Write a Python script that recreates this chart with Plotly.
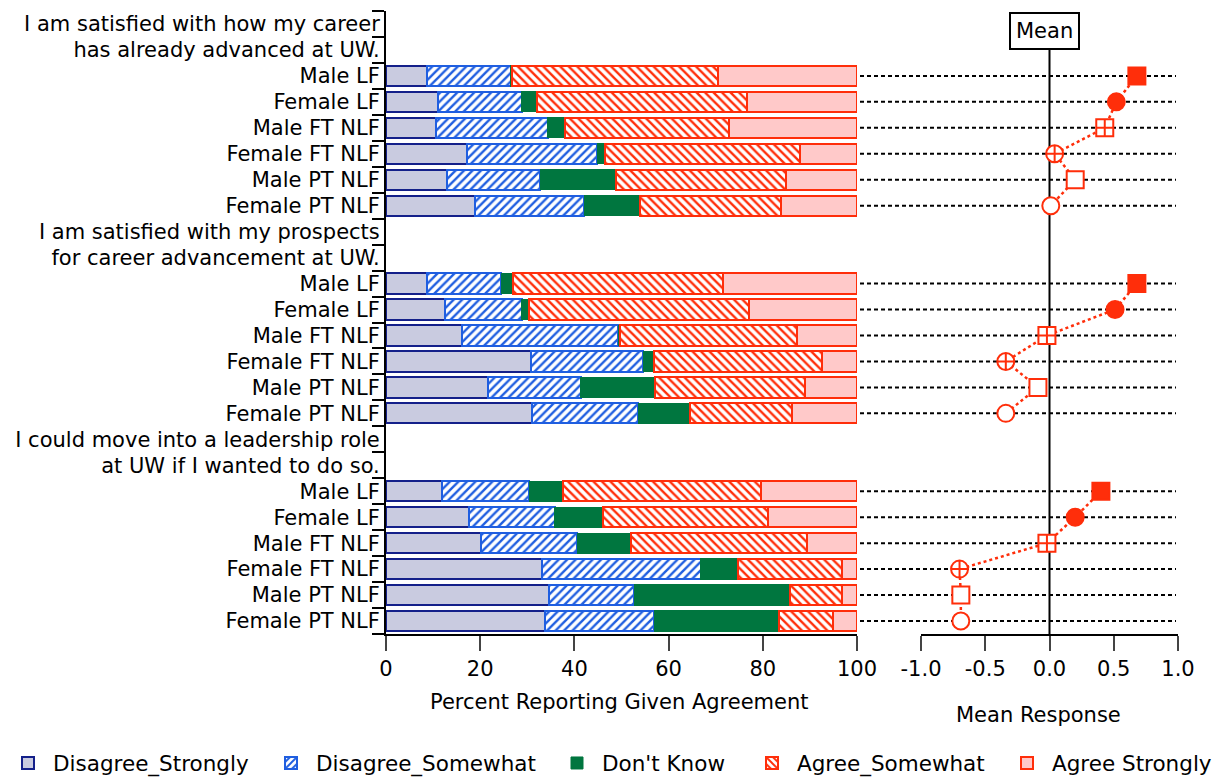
import plotly.graph_objects as go

# question headers (two lines each) and respondent groups
questions = [
    ("I am satisfied with how my career", "has already advanced at UW."),
    ("I am satisfied with my prospects", "for career advancement at UW."),
    ("I could move into a leadership role", "at UW if I wanted to do so."),
]
groups = ["Male LF", "Female LF", "Male FT NLF", "Female FT NLF", "Male PT NLF", "Female PT NLF"]

categories = ["Disagree_Strongly", "Disagree_Somewhat", "Don't Know", "Agree_Somewhat", "Agree Strongly"]

# percent of respondents, 18 rows (3 questions x 6 groups)
disagree_strongly = [8.6, 11.0, 10.6, 17.3, 13.0, 18.9,
                     8.6, 12.5, 16.1, 30.7, 21.6, 31.0,
                     11.8, 17.7, 20.1, 33.1, 34.6, 33.8]
disagree_somewhat = [17.9, 17.8, 23.7, 27.6, 19.8, 23.2,
                     15.9, 16.3, 33.2, 23.9, 19.8, 22.6,
                     18.6, 18.1, 20.5, 33.7, 18.1, 23.2]
dont_know = [0.3, 3.2, 3.8, 1.6, 16.1, 11.8,
             2.5, 1.6, 0.3, 2.2, 15.8, 10.9,
             7.2, 10.3, 11.4, 8.0, 33.1, 26.5]
agree_somewhat = [43.6, 44.7, 34.7, 41.4, 36.1, 29.9,
                  44.6, 46.7, 37.7, 35.7, 31.8, 21.7,
                  42.0, 34.9, 37.3, 22.0, 11.0, 11.3]
agree_strongly = [29.6, 23.3, 27.2, 12.1, 15.0, 16.2,
                  28.4, 22.9, 12.7, 7.5, 11.0, 13.8,
                  20.4, 19.0, 10.7, 3.2, 3.2, 5.2]

mean_response = [0.68, 0.52, 0.43, 0.04, 0.20, 0.01,
                 0.68, 0.51, -0.02, -0.34, -0.09, -0.34,
                 0.40, 0.20, -0.02, -0.70, -0.69, -0.69]

RED = "#ff2e0a"
BLUE = "#1f5ee0"
NAVY = "#14208a"
GREEN = "#00763f"
FONT = "DejaVu Sans"
W = 1224
OFF = 8  # page body margin
PLOT_TOP, PLOT_H = 3, 623

# y layout: every question takes 8 slots (2 header lines + 6 groups)
tickvals, ticktext, row_y = [], [], []
for g, (l1, l2) in enumerate(questions):
    base = g * 8
    tickvals += [base, base + 1]
    ticktext += [l1, l2]
    for i, name in enumerate(groups):
        tickvals.append(base + 2 + i)
        ticktext.append(name)
        row_y.append(base + 2 + i)


def px(x):
    return (x - OFF) / W


def py(y):
    return (PLOT_TOP + PLOT_H - (y - OFF)) / PLOT_H


series = [disagree_strongly, disagree_somewhat, dont_know, agree_somewhat, agree_strongly]
styles = [
    dict(color="#c9cbe0", line=dict(color=NAVY, width=2)),
    dict(color=BLUE, line=dict(color=BLUE, width=2),
         pattern=dict(shape="/", fgcolor=BLUE, bgcolor="white", size=6, solidity=0.4, fillmode="replace")),
    dict(color=GREEN, line=dict(color=GREEN, width=1)),
    dict(color=RED, line=dict(color=RED, width=2),
         pattern=dict(shape="\\", fgcolor=RED, bgcolor="white", size=6, solidity=0.4, fillmode="replace")),
    dict(color="#ffc9c9", line=dict(color=RED, width=2)),
]
# page x where each legend label text starts
legend_text_x = [53, 316, 602, 797, 1052]
legend_names = ["legend", "legend2", "legend3", "legend4", "legend5"]

fig = go.Figure()
for name, vals, st, lg in zip(categories, series, styles, legend_names):
    fig.add_trace(go.Bar(
        y=row_y, x=vals, orientation="h", name=name, marker=st, width=0.78,
        xaxis="x", yaxis="y", hoverinfo="x+name", legend=lg))

symbols = ["square", "circle", "square-cross", "circle-cross", "square", "circle"]
fills = [RED, RED, "white", "white", "white", "white"]
for g in range(len(questions)):
    sl = slice(g * 6, g * 6 + 6)
    fig.add_trace(go.Scatter(
        x=mean_response[sl], y=row_y[sl], mode="lines+markers", xaxis="x2", yaxis="y2",
        line=dict(color=RED, width=2.5, dash="dot"),
        marker=dict(symbol=symbols, size=17, color=fills, line=dict(color=RED, width=2)),
        showlegend=False))

# dotted guide lines across the mean panel
for y in row_y:
    fig.add_shape(type="line", xref="paper", yref="y2", x0=px(860), x1=px(1176), y0=y, y1=y,
                  line=dict(color="black", width=2, dash="4px,3px"), layer="below")
fig.add_shape(type="line", xref="x2", yref="paper", x0=0, x1=0, y0=0, y1=py(50),
              line=dict(color="black", width=2), layer="below")
fig.add_annotation(x=0, xref="x2", y=py(31), yref="paper", yanchor="middle", text="Mean", showarrow=False,
                   xshift=-5, font=dict(size=21, color="black", family=FONT), bordercolor="black",
                   borderwidth=2, borderpad=5, bgcolor="white")
fig.add_annotation(x=px(619), xref="paper", y=py(702), yref="paper", yanchor="middle", xanchor="center",
                   text="Percent Reporting Given Agreement", showarrow=False, font=dict(size=21))
fig.add_annotation(x=px(1038), xref="paper", y=py(715), yref="paper", yanchor="middle", xanchor="center",
                   text="Mean Response", showarrow=False, font=dict(size=21))

boundaries = [v - 0.5 for v in range(25)]
layout_legends = {}
for lg, tx in zip(legend_names, legend_text_x):
    layout_legends[lg] = dict(orientation="h", x=(tx - 36 - OFF - 14) / W, xanchor="left", y=py(763),
                              yanchor="middle", font=dict(size=21.5), itemwidth=40,
                              bgcolor="rgba(0,0,0,0)")

fig.update_layout(
    width=1224, height=778,
    margin=dict(l=0, r=0, t=PLOT_TOP, b=778 - PLOT_TOP - PLOT_H, autoexpand=False),
    paper_bgcolor="white", plot_bgcolor="rgba(0,0,0,0)",
    font=dict(family=FONT, size=20, color="black"),
    barmode="stack", bargap=0.22,
    xaxis=dict(domain=[px(386), px(857)], range=[0, 100], tickvals=[0, 20, 40, 60, 80, 100],
               ticks="outside", ticklen=15, tickwidth=2, showline=True, linecolor="black", linewidth=2,
               showgrid=False, zeroline=False, tickfont=dict(size=21), automargin=False),
    yaxis=dict(range=[23.5, -0.5], tickvals=tickvals, ticktext=ticktext, showline=True,
               linecolor="black", linewidth=2, showgrid=False, zeroline=False, automargin=False,
               ticks="outside", ticklen=4, tickcolor="rgba(0,0,0,0)", tickfont=dict(size=21),
               ticklabelstandoff=-4,
               minor=dict(tickvals=boundaries, ticks="outside", ticklen=12, tickwidth=2, tickcolor="black")),
    xaxis2=dict(domain=[px(921), px(1178)], range=[-1, 1], tickvals=[-1, -0.5, 0, 0.5, 1],
                ticktext=["-1.0", "-0.5", "0.0", "0.5", "1.0"], ticks="outside", ticklen=15, tickwidth=2,
                showline=True, linecolor="black", linewidth=2, showgrid=False, zeroline=False,
                tickfont=dict(size=21), anchor="y2", automargin=False),
    yaxis2=dict(range=[23.5, -0.5], matches="y", anchor="x2", overlaying="y", showticklabels=False,
                showgrid=False, zeroline=False, showline=False, ticks="", automargin=False),
    **layout_legends,
)

fig.write_html("out.html")
